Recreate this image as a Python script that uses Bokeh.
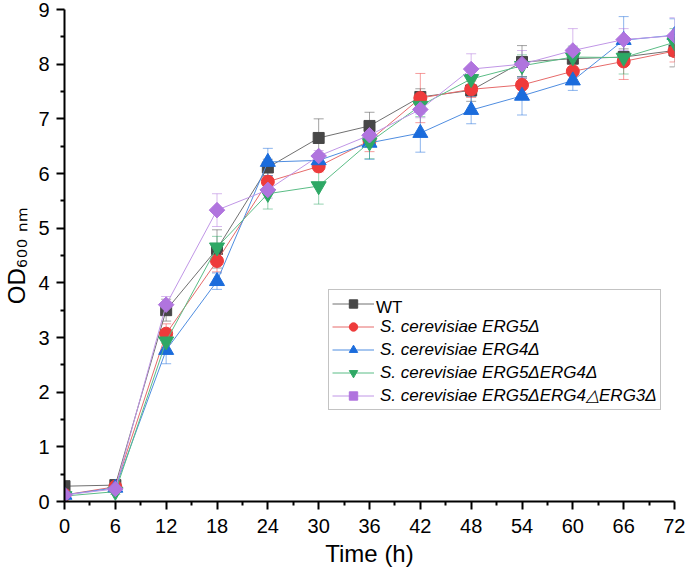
import numpy as np
from bokeh.plotting import figure
from bokeh.models import (ColumnDataSource, Whisker, TeeHead, Legend, LegendItem,
                          FixedTicker, Range1d)
from bokeh.embed import file_html
from bokeh.resources import INLINE

# ---------------- data ----------------
time_h = [0, 6, 12, 18, 24, 30, 36, 42, 48, 54, 60, 66, 72]

series_names = ["WT",
                "S. cerevisiae ERG5Δ",
                "S. cerevisiae ERG4Δ",
                "S. cerevisiae ERG5ΔERG4Δ",
                "S. cerevisiae ERG5ΔERG4△ERG3Δ"]

wt_od = [0.28, 0.30, 3.50, 4.62, 6.11, 6.65, 6.87, 7.40, 7.52, 8.04, 8.10, 8.13, 8.25]
erg5_od = [0.12, 0.27, 3.07, 4.40, 5.85, 6.13, 6.60, 7.38, 7.54, 7.62, 7.87, 8.05, 8.24]
erg4_od = [0.12, 0.25, 2.77, 4.03, 6.21, 6.24, 6.56, 6.74, 7.16, 7.42, 7.70, 8.44, 8.53]
erg54_od = [0.10, 0.18, 2.93, 4.65, 5.63, 5.77, 6.57, 7.24, 7.73, 7.97, 8.13, 8.12, 8.40]
erg543_od = [0.12, 0.23, 3.60, 5.33, 5.70, 6.32, 6.70, 7.17, 7.91, 8.00, 8.25, 8.45, 8.52]

wt_err = [0.05, 0.05, 0.20, 0.35, 0.15, 0.35, 0.25, 0.15, 0.20, 0.30, 0.15, 0.15, 0.30]
erg5_err = [0.03, 0.05, 0.18, 0.20, 0.10, 0.10, 0.20, 0.45, 0.15, 0.15, 0.15, 0.33, 0.20]
erg4_err = [0.03, 0.05, 0.25, 0.15, 0.25, 0.10, 0.30, 0.35, 0.25, 0.35, 0.18, 0.43, 0.30]
erg54_err = [0.03, 0.05, 0.15, 0.20, 0.28, 0.33, 0.30, 0.20, 0.15, 0.20, 0.20, 0.30, 0.25]
erg543_err = [0.03, 0.05, 0.15, 0.30, 0.15, 0.10, 0.20, 0.15, 0.28, 0.25, 0.40, 0.20, 0.33]

x_ticks = [0, 6, 12, 18, 24, 30, 36, 42, 48, 54, 60, 66, 72]
y_ticks = [0, 1, 2, 3, 4, 5, 6, 7, 8, 9]

x_title = "Time (h)"
y_title = "OD₆₀₀ ₙₘ"

# ---------------- style ----------------
marker_colors = ["#474747", "#ee3b3b", "#1b6cdc", "#2ea865", "#b074de"]
line_colors = ["#707070", "#e66a6a", "#4f8de0", "#5bbd86", "#c096e6"]
markers = ["square", "circle", "triangle", "inverted_triangle", "square"]
sizes = [11, 13, 15, 15, 11]
angles = [0, 0, 0, 0, np.pi / 4]

FONT = "Liberation Sans"

p = figure(width=685, height=581, output_backend="svg", toolbar_location=None,
           x_range=Range1d(0, 72), y_range=Range1d(0, 9),
           min_border_left=64, min_border_right=11, min_border_top=9,
           min_border_bottom=80)
p.grid.visible = False
p.outline_line_color = None
p.background_fill_color = "white"
p.border_fill_color = "white"

all_od = [wt_od, erg5_od, erg4_od, erg54_od, erg543_od]
all_err = [wt_err, erg5_err, erg4_err, erg54_err, erg543_err]

renderers = []
for i, (od, err) in enumerate(zip(all_od, all_err)):
    src = ColumnDataSource(dict(
        t=time_h, od=od,
        upper=[a + b for a, b in zip(od, err)],
        lower=[a - b for a, b in zip(od, err)]))
    c = marker_colors[i]
    w = Whisker(base="t", upper="upper", lower="lower", source=src,
                line_color=c, line_alpha=0.5, line_width=1,
                upper_head=TeeHead(size=10, line_color=c, line_alpha=0.5, line_width=1),
                lower_head=TeeHead(size=10, line_color=c, line_alpha=0.5, line_width=1))
    p.add_layout(w)
    lr = p.line("t", "od", source=src, line_color=line_colors[i], line_width=1)
    sr = p.scatter("t", "od", source=src, marker=markers[i], size=sizes[i],
                   angle=angles[i], fill_color=c, line_color=c, line_width=1)
    renderers.append([lr, sr])

# ---------------- axes ----------------
p.xaxis.ticker = FixedTicker(ticks=x_ticks, minor_ticks=[t + 3 for t in x_ticks[:-1]])
p.yaxis.ticker = FixedTicker(ticks=y_ticks, minor_ticks=[v + 0.5 for v in y_ticks[:-1]])
for ax in (p.xaxis, p.yaxis):
    ax.axis_line_width = 2
    ax.axis_line_color = "black"
    ax.major_tick_line_width = 2
    ax.minor_tick_line_width = 2
    ax.major_tick_line_color = "black"
    ax.minor_tick_line_color = "black"
    ax.major_tick_in = 0
    ax.minor_tick_in = 0
    ax.major_tick_out = 8
    ax.minor_tick_out = 4
    ax.major_label_text_font = FONT
    ax.major_label_text_font_size = "20px"
    ax.major_label_text_color = "black"
    ax.axis_label_text_font = FONT
    ax.axis_label_text_font_size = "24px"
    ax.axis_label_text_font_style = "normal"
    ax.axis_label_text_color = "black"
p.xaxis.major_label_standoff = 9
p.yaxis.major_label_standoff = 7
p.xaxis.axis_label = x_title
p.xaxis.axis_label_standoff = 4
p.yaxis.axis_label = y_title
p.yaxis.axis_label_standoff = 5

# ---------------- legend ----------------
common = dict(glyph_width=42, glyph_height=21, label_height=21, label_standoff=6,
              padding=3, spacing=2, margin=0, label_text_font=FONT,
              label_text_font_size="17px", label_text_color="black")
items1 = [LegendItem(label=(" " if i == 0 else series_names[i]), renderers=renderers[i])
          for i in range(5)]
leg1 = Legend(items=items1, location=(264, 91), border_line_color="#888888",
              border_line_width=1, background_fill_color="white",
              background_fill_alpha=1.0, label_text_font_style="italic", **common)
p.add_layout(leg1)
ghost = p.line([], [], line_alpha=0)
leg2 = Legend(items=[LegendItem(label=series_names[0], renderers=[ghost])],
              location=(264, 183), border_line_color=None,
              background_fill_alpha=0.0, label_text_font_style="normal", **common)
p.add_layout(leg2)

open("out.html", "w").write(file_html(p, INLINE))
